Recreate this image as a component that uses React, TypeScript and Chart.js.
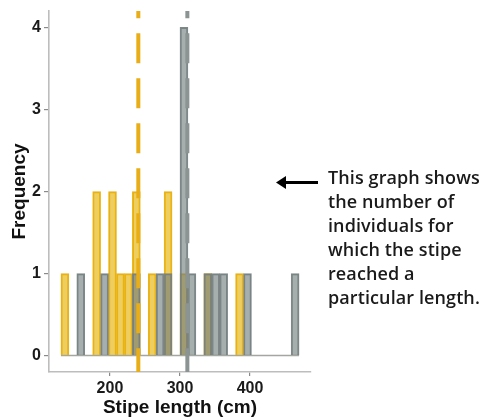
import React, { useEffect, useRef } from "react";
import { Chart, registerables } from "chart.js";

Chart.register(...registerables);

// Histogram definition (30 bins)
const BIN_START = 130;
const BIN_WIDTH = 340 / 30;
const BIN_COUNT = 30;

// Counts per bin
const yellowCounts = [1, 0, 0, 0, 2, 0, 2, 1, 1, 2, 0, 1, 0, 2, 0, 1, 0, 0, 1, 0, 0, 0, 1, 0, 0, 0, 0, 0, 0, 0];
const grayCounts = [0, 0, 1, 0, 0, 1, 0, 0, 0, 1, 0, 0, 1, 1, 0, 4, 1, 0, 1, 1, 1, 0, 0, 1, 0, 0, 0, 0, 0, 1];

// Mean lines
const yellowMean = 240.5;
const grayMean = 310.5;

// Ticks
const xTicks = [200, 300, 400];
const yTicks = [0, 1, 2, 3, 4];

const X_MIN = 113;
const X_MAX = 487;
const Y_MIN = -0.2;
const Y_MAX = 4.2;

const YELLOW_FILL = "rgba(231,180,10,0.65)";
const YELLOW_BORDER = "rgba(232,174,10,0.95)";
const GRAY_FILL = "rgba(112,124,124,0.62)";
const GRAY_BORDER = "rgba(120,130,130,0.95)";
const YELLOW_LINE = "#E9AE17";
const GRAY_LINE = "#8B9393";

const binCenter = (i: number) => BIN_START + BIN_WIDTH * (i + 0.5);

const meanLinesPlugin = {
  id: "meanLines",
  afterDatasetsDraw(chart: any) {
    const { ctx, chartArea, scales } = chart;
    const x = scales.x;
    const lines: [number, string][] = [
      [yellowMean, YELLOW_LINE],
      [grayMean, GRAY_LINE],
    ];
    ctx.save();
    ctx.beginPath();
    ctx.rect(chartArea.left, chartArea.top, chartArea.right - chartArea.left, chartArea.bottom - chartArea.top);
    ctx.clip();
    lines.forEach(([m, c]) => {
      const px = x.getPixelForValue(m);
      ctx.strokeStyle = c;
      ctx.lineWidth = 4;
      ctx.setLineDash([30, 15]);
      ctx.lineDashOffset = 22.8;
      ctx.beginPath();
      ctx.moveTo(px, chartArea.top);
      ctx.lineTo(px, chartArea.bottom);
      ctx.stroke();
    });
    ctx.restore();
  },
};

export default function App() {
  const canvasRef = useRef<HTMLCanvasElement | null>(null);

  useEffect(() => {
    document.body.style.margin = "0";
    const canvas = canvasRef.current;
    if (!canvas) return;
    const idx = Array.from({ length: BIN_COUNT }, (_, i) => i);
    const chart = new Chart(canvas, {
      type: "bar",
      data: {
        datasets: [
          {
            type: "bar",
            label: "gray",
            data: idx.map((i) => ({ x: binCenter(i), y: grayCounts[i] })),
            backgroundColor: GRAY_FILL,
            borderColor: GRAY_BORDER,
            borderWidth: 1.3,
            barPercentage: 1,
            categoryPercentage: 1,
            grouped: false,
            order: 1,
          } as any,
          {
            type: "bar",
            label: "yellow",
            data: idx.map((i) => ({ x: binCenter(i), y: yellowCounts[i] })),
            backgroundColor: YELLOW_FILL,
            borderColor: YELLOW_BORDER,
            borderWidth: 1.3,
            barPercentage: 1,
            categoryPercentage: 1,
            grouped: false,
            order: 2,
          } as any,
          {
            type: "line",
            label: "base",
            data: [
              { x: BIN_START, y: 0 },
              { x: BIN_START + BIN_WIDTH * BIN_COUNT, y: 0 },
            ],
            borderColor: "#A3A7A0",
            borderWidth: 1.5,
            pointRadius: 0,
            order: 3,
          } as any,
        ],
      },
      options: {
        animation: false,
        responsive: false,
        maintainAspectRatio: false,
        devicePixelRatio: 1,
        layout: { padding: { top: 10, right: 170, left: 0, bottom: 0 } },
        plugins: {
          legend: { display: false },
          tooltip: { enabled: false },
        },
        scales: {
          x: {
            type: "linear",
            min: X_MIN,
            max: X_MAX,
            offset: false,
            afterBuildTicks: (scale: any) => {
              scale.ticks = xTicks.map((v) => ({ value: v }));
            },
            afterFit: (scale: any) => {
              scale.height = 47;
            },
            grid: {
              display: true,
              offset: false,
              drawOnChartArea: false,
              drawTicks: true,
              tickLength: 4,
              tickColor: "#8a8a8a",
              lineWidth: 1.2,
            },
            border: { display: true, color: "#BDBDBD", width: 1.6 },
            ticks: {
              padding: 3,
              color: "#1a1a1a",
              font: { family: "'Liberation Sans', Arial, sans-serif", size: 16, weight: "bold", lineHeight: 1.2 },
              maxRotation: 0,
              autoSkip: false,
            },
            title: {
              display: true,
              text: "Stipe length (cm)",
              color: "#111",
              font: { family: "'Liberation Sans', Arial, sans-serif", size: 19, weight: "bold", lineHeight: 1 },
              padding: { top: 0, bottom: 2 },
            },
          },
          y: {
            type: "linear",
            min: Y_MIN,
            max: Y_MAX,
            afterBuildTicks: (scale: any) => {
              scale.ticks = yTicks.map((v) => ({ value: v }));
            },
            afterFit: (scale: any) => {
              scale.width = 49;
            },
            grid: {
              display: true,
              drawOnChartArea: false,
              drawTicks: true,
              tickLength: 5,
              tickColor: "#8a8a8a",
              lineWidth: 1.2,
            },
            border: { display: true, color: "#BDBDBD", width: 1.6 },
            ticks: {
              padding: 3,
              color: "#1a1a1a",
              font: { family: "'Liberation Sans', Arial, sans-serif", size: 16, weight: "bold", lineHeight: 1 },
              autoSkip: false,
            },
            title: {
              display: true,
              text: "Frequency",
              color: "#111",
              font: { family: "'Liberation Sans', Arial, sans-serif", size: 19, weight: "bold", lineHeight: 1 },
              padding: { top: 10.5, bottom: 0 },
            },
          },
        },
      },
      plugins: [meanLinesPlugin],
    } as any);
    return () => chart.destroy();
  }, []);

  return (
    <div style={{ position: "relative", width: 481, height: 419, overflow: "hidden", background: "#fff" }}>
      <canvas ref={canvasRef} width={481} height={419} style={{ position: "absolute", left: 0, top: 0, width: 481, height: 419 }} />
      <svg
        width={50}
        height={20}
        style={{ position: "absolute", left: 272, top: 172 }}
        viewBox="0 0 50 20"
      >
        <line x1={12} y1={10.5} x2={46} y2={10.5} stroke="#000" strokeWidth={3} />
        <polygon points="4,10.5 14,4 14,17" fill="#000" />
      </svg>
      <div
        style={{
          position: "absolute",
          left: 328,
          top: 165,
          fontFamily: "'Open Sans', sans-serif",
          fontSize: 18,
          fontWeight: 600,
          letterSpacing: 0.1,
          lineHeight: "24px",
          color: "#1a1a1a",
          whiteSpace: "nowrap",
        }}
      >
        This graph shows
        <br />
        the number of
        <br />
        individuals for
        <br />
        which the stipe
        <br />
        reached a
        <br />
        particular length.
      </div>
    </div>
  );
}
